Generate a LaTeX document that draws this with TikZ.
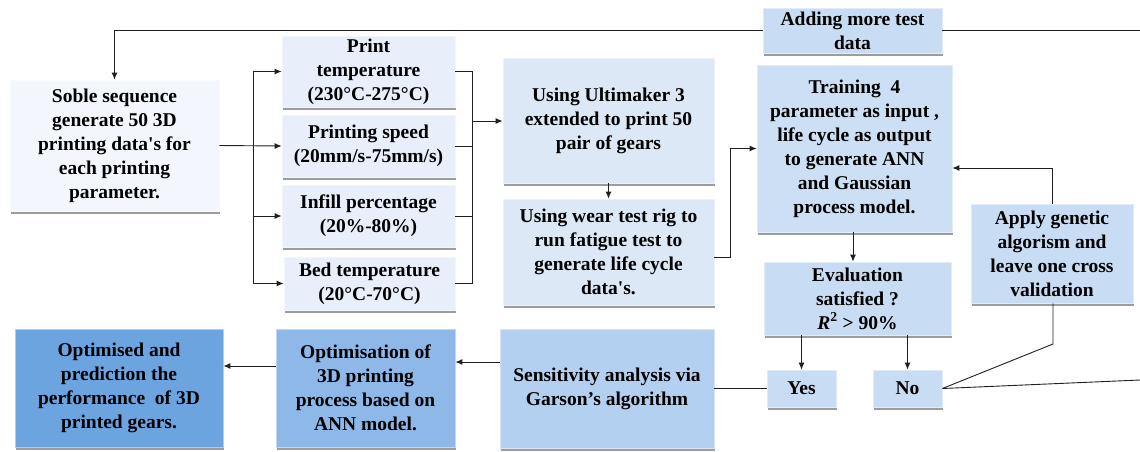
\documentclass[tikz,border=0pt]{standalone}
\usepackage{fontspec}
\setmainfont{Liberation Serif}
\usetikzlibrary{arrows.meta,shadows}

\definecolor{cA}{HTML}{F3F7FD}
\definecolor{cB}{HTML}{E8EFFA}
\definecolor{cC}{HTML}{DCE8F6}
\definecolor{cD}{HTML}{CCDFF4}
\definecolor{cE}{HTML}{C8DCF3}
\definecolor{cF}{HTML}{B3D0F0}
\definecolor{cG}{HTML}{8DB8E8}
\definecolor{cH}{HTML}{6CA4E0}
\definecolor{lineC}{HTML}{202020}

\tikzset{
  box/.style={rectangle, fill=#1, draw=#1!55!white, line width=0.8pt,
    inner sep=0pt, align=center,
    font=\fontsize{19.5}{24}\selectfont\bfseries,
    drop shadow={shadow xshift=1.2pt, shadow yshift=-2.6pt, fill=black!55, opacity=0.7}},
  wire/.style={draw=lineC, line width=0.9pt},
  arr/.style={wire, -{Latex[length=7pt,width=6pt]}},
}

\begin{document}
\begin{tikzpicture}[x=1pt,y=-1pt]
\useasboundingbox[fill=white] (0,0) rectangle (1140,451);

% input stage
\node[box=cA, minimum width=209pt, minimum height=131pt] (soble) at (114.5,145.5)
  {Soble sequence\\generate 50 3D\\printing data\textquotesingle s for\\each printing\\parameter.};

\node[box=cB, minimum width=173pt, minimum height=71pt] (ptemp) at (368.5,71.5)
  {Print\\temperature\\(230°C-275°C)};
\node[box=cB, minimum width=173pt, minimum height=62pt] (pspeed) at (368.5,146)
  {Printing speed\\(20mm/s-75mm/s)};
\node[box=cB, minimum width=173pt, minimum height=62pt] (infill) at (368.5,216)
  {Infill percentage\\(20\%-80\%)};
\node[box=cB, minimum width=171pt, minimum height=53pt] (bed) at (369.5,283.5)
  {Bed temperature\\(20°C-70°C)};

% printing and testing
\node[box=cC, minimum width=211pt, minimum height=125pt] (ulti) at (608.5,120.5)
  {Using Ultimaker 3\\extended to print 50\\pair of gears};
\node[box=cC, minimum width=211pt, minimum height=106pt] (wear) at (608.5,252)
  {Using wear test rig to\\run fatigue test to\\generate life cycle\\data\textquotesingle s.};

% model stage
\node[box=cE, minimum width=179pt, minimum height=45pt] (adding) at (852.5,30.5)
  {Adding more test\\data};
\node[box=cD, minimum width=195pt, minimum height=167pt] (training) at (854.5,148.5)
  {Training\ \ 4\\parameter as input ,\\life cycle as output\\to generate ANN\\and Gaussian\\process model.};
\node[box=cE, minimum width=187pt, minimum height=73pt] (eval) at (857.5,298.5)
  {Evaluation\\satisfied ?\\\textit{R}\textsuperscript{2} > 90\%};
\node[box=cE, minimum width=69pt, minimum height=37pt] (yes) at (801.5,388.5) {Yes};
\node[box=cE, minimum width=69pt, minimum height=37pt] (no) at (907.5,388.5) {No};
\node[box=cE, minimum width=162pt, minimum height=99pt] (apply) at (1052,253.5)
  {Apply genetic\\algorism and\\leave one cross\\validation};

% output stage
\node[box=cF, minimum width=214pt, minimum height=119pt] (sens) at (607,388.5)
  {Sensitivity analysis via\\Garson’s algorithm};
\node[box=cG, minimum width=179pt, minimum height=118pt] (optn) at (365.5,388)
  {Optimisation of\\3D printing\\process based on\\ANN model.};
\node[box=cH, minimum width=208pt, minimum height=118pt] (optd) at (119,388)
  {Optimised and\\prediction the\\performance\ \ of 3D\\printed gears.};

% helper points
\coordinate (split) at (253,145.5);
\coordinate (merge) at (472,121);
\coordinate (bend) at (730,257);
\coordinate (topR) at (1140,30.5);
\coordinate (noR) at (1140,380);
\coordinate (knee) at (1053,344);

% fan-out to the four parameters
\draw[arr] (soble.east) -- (pspeed.west);
\draw[arr] (split) |- (ptemp.west);
\draw[arr] (split) |- (infill.west);
\draw[arr] (split) |- (bed.west);

% fan-in to printing
\draw[wire] (ptemp.east) -| (merge);
\draw[wire] (pspeed.east) -| (merge);
\draw[wire] (infill.east) -| (merge);
\draw[wire] (bed.east) -| (merge);
\draw[arr] (merge) -- (ulti.west |- merge);

\draw[arr] (ulti.south) -- (wear.north);
\draw[arr] (wear.east |- bend) -- (bend) |- (training.west);
\draw[arr] (training.south -| 853,0) -- (eval.north -| 853,0);
\draw[arr] (eval.south -| yes.north) -- (yes.north);
\draw[arr] (eval.south -| no.north) -- (no.north);

% decision branches
\draw[wire] (yes.west) -- (sens.east |- yes.west);
\draw[arr] (sens.west |- 0,362) -- (optn.east |- 0,362);
\draw[arr] (optn.west |- 0,366) -- (optd.east |- 0,366);

\draw[wire] (apply.south -| knee) -- (knee) -- (no.east);
\draw[wire] (no.east) -- (noR);
\draw[arr] (apply.north) |- (training.east |- 0,168) ;

% feedback along the top
\draw[wire] (topR) -- (adding.east);
\draw[arr] (adding.west) -| (soble.north);
\end{tikzpicture}
\end{document}
